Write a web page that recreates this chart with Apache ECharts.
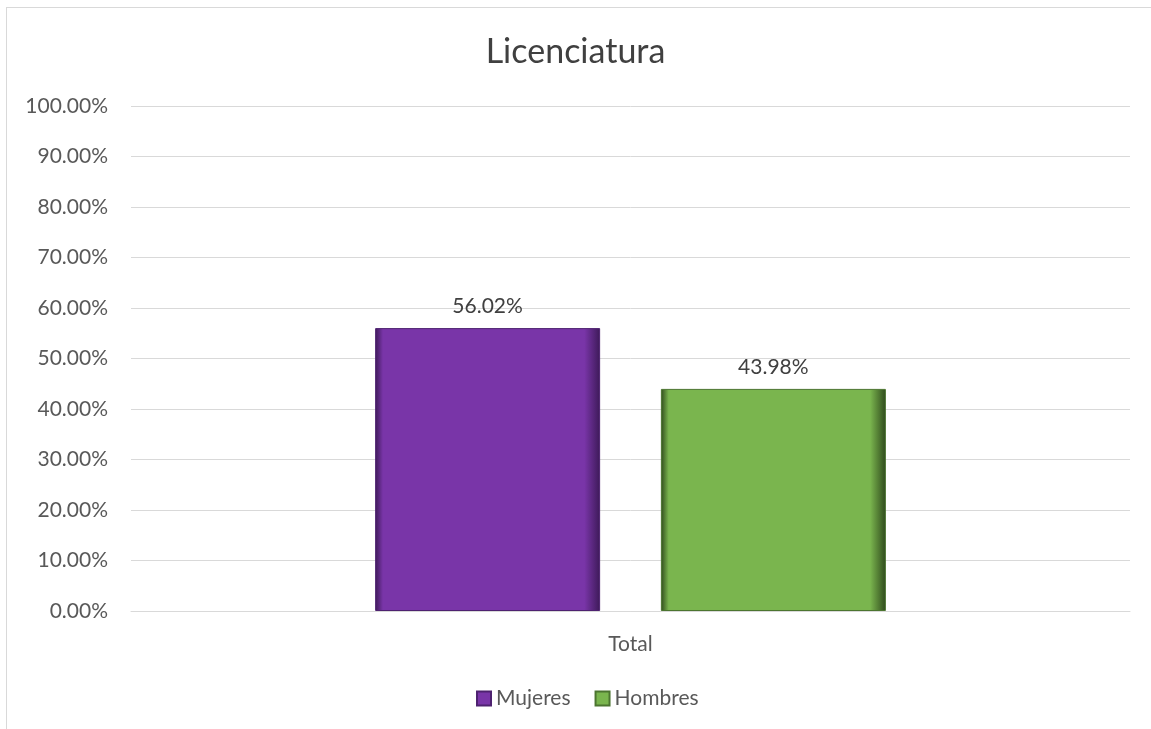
<!DOCTYPE html>
<html>
<head>
<meta charset="utf-8">
<script src="https://cdn.jsdelivr.net/npm/echarts@6/dist/echarts.min.js"></script>
<style>
  html, body { margin: 0; padding: 0; background: #fff; }
  #chart { width: 1151px; height: 729px; position: relative; }
  #frame { position: absolute; left: 6px; top: 7px; right: -2px; bottom: -2px;
           border: 1px solid #d9d9d9; pointer-events: none; }
</style>
</head>
<body>
<div id="chart"></div>
<div id="frame"></div>
<script>
var categories = ['Total'];
var seriesNames = ['Mujeres', 'Hombres'];
var mujeres = [56.02];
var hombres = [43.98];

var chart = echarts.init(document.getElementById('chart'));

// bevel-ish fill: darker edges left/right
function bevel(main, dark) {
    return new echarts.graphic.LinearGradient(0, 0, 1, 0, [
        { offset: 0, color: dark },
        { offset: 0.035, color: main },
        { offset: 0.93, color: main },
        { offset: 1, color: dark }
    ]);
}

function pct(p) { return p.value.toFixed(2) + '%'; }

var options = {
    backgroundColor: '#fff',
    textStyle: { fontFamily: 'Lato' },
    title: {
        text: 'Licenciatura',
        left: 'center',
        top: 30,
        textStyle: { fontSize: 34, fontWeight: 'normal', color: '#404040', fontFamily: 'Lato' }
    },
    grid: { left: 131, right: 21, top: 106, bottom: 118 },
    legend: {
        top: 683,
        left: 471,
        itemWidth: 14,
        itemHeight: 14,
        itemGap: 24,
        icon: 'rect',
        textStyle: { fontSize: 21, color: '#595959' },
        data: seriesNames
    },
    xAxis: {
        type: 'category',
        data: categories,
        axisLine: { lineStyle: { color: '#d9d9d9', width: 1 } },
        axisTick: { show: false },
        axisLabel: { fontSize: 21, color: '#595959', margin: 23 }
    },
    yAxis: {
        type: 'value',
        min: 0,
        max: 100,
        interval: 10,
        axisLine: { show: false },
        axisTick: { show: false },
        splitLine: { lineStyle: { color: '#d9d9d9', width: 1 } },
        axisLabel: {
            fontSize: 21,
            color: '#595959',
            margin: 23,
            formatter: function (v) { return v.toFixed(2) + '%'; }
        }
    },
    series: [
        {
            name: seriesNames[0],
            type: 'bar',
            data: mujeres,
            barWidth: 225,
            barGap: '27%',
            itemStyle: { color: bevel('#7935a8', '#3d1a58'), borderColor: '#4e2270', borderWidth: 1 },
            label: { show: true, position: 'top', distance: 11, fontSize: 21, color: '#404040', formatter: pct }
        },
        {
            name: seriesNames[1],
            type: 'bar',
            data: hombres,
            barWidth: 225,
            itemStyle: { color: bevel('#7ab54e', '#2f4a1c'), borderColor: '#4c7530', borderWidth: 1 },
            label: { show: true, position: 'top', distance: 11, fontSize: 21, color: '#404040', formatter: pct }
        }
    ]
};

chart.setOption(options);
</script>
</body>
</html>
